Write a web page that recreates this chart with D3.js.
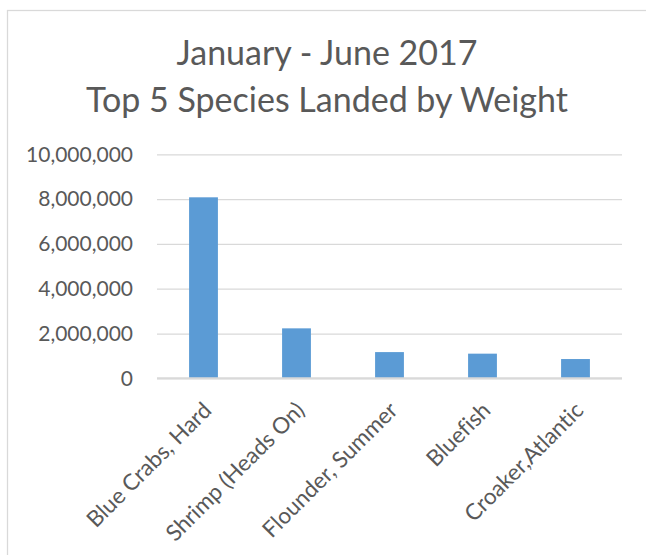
<!DOCTYPE html>
<html>
<head>
<meta charset="utf-8">
<script src="https://cdn.jsdelivr.net/npm/d3@7"></script>
<style>
  html, body { margin: 0; padding: 0; background: #fff; }
  svg { display: block; }
  text { font-family: Lato, "Open Sans", sans-serif; fill: #595959; font-variant-ligatures: none; }
</style>
</head>
<body>
<svg id="chart" width="646" height="555"></svg>
<script>
// Landings, January - June 2017 (pounds)
const species = ["Blue Crabs, Hard", "Shrimp (Heads On)", "Flounder, Summer", "Bluefish", "Croaker,Atlantic"];
const pounds = [8080000, 2230000, 1170000, 1100000, 860000];
const yTicks = [0, 2000000, 4000000, 6000000, 8000000, 10000000];
const titleLines = ["January - June 2017", "Top 5 Species Landed by Weight"];

const svg = d3.select("#chart");
const plot = { left: 157, right: 622, top: 154.3, bottom: 378.3 };

// chart frame
svg.append("rect")
  .attr("x", 7.5).attr("y", 10.5)
  .attr("width", 700).attr("height", 600)
  .attr("fill", "#fff")
  .attr("stroke", "#d9d9d9").attr("stroke-width", 1.25);

// title
svg.append("g").selectAll("text")
  .data(titleLines)
  .join("text")
  .attr("x", 327)
  .attr("y", (d, i) => i === 0 ? 65 : 111.5)
  .attr("text-anchor", "middle")
  .style("font-size", "34px")
  .text(d => d);

const y = d3.scaleLinear().domain([0, 10000000]).range([plot.bottom, plot.top]);
const x = d3.scaleBand().domain(species).range([plot.left, plot.right])
  .paddingInner(0.69).paddingOuter(0.345);

// horizontal gridlines
const yAxis = d3.axisLeft(y).tickValues(yTicks)
  .tickFormat(d3.format(","))
  .tickSize(-(plot.right - plot.left)).tickPadding(24);
const gy = svg.append("g").attr("transform", `translate(${plot.left},0)`).call(yAxis);
gy.select(".domain").remove();
gy.selectAll(".tick line").attr("stroke", "#d9d9d9").attr("stroke-width", 1.25);
gy.selectAll(".tick text")
  .attr("fill", "#595959")
  .style("font-size", "21px")
  .style("font-family", "Lato, 'Open Sans', sans-serif");

// bars
svg.append("g").selectAll("rect")
  .data(species.map((s, i) => ({ s, v: pounds[i] })))
  .join("rect")
  .attr("x", d => x(d.s))
  .attr("width", x.bandwidth())
  .attr("y", d => y(d.v))
  .attr("height", d => y(0) - y(d.v))
  .attr("fill", "#5b9bd5");

// category axis baseline
svg.append("line")
  .attr("x1", plot.left).attr("x2", plot.right)
  .attr("y1", y(0)).attr("y2", y(0))
  .attr("stroke", "#d9d9d9").attr("stroke-width", 2);

// rotated category labels
svg.append("g").selectAll("text")
  .data(species)
  .join("text")
  .attr("transform", d => `translate(${x(d) + x.bandwidth() / 2 - 2},${y(0) + 22}) rotate(-45)`)
  .attr("text-anchor", "end")
  .attr("dy", "0.72em")
  .style("font-size", "22.5px")
  .text(d => d);
</script>
</body>
</html>
